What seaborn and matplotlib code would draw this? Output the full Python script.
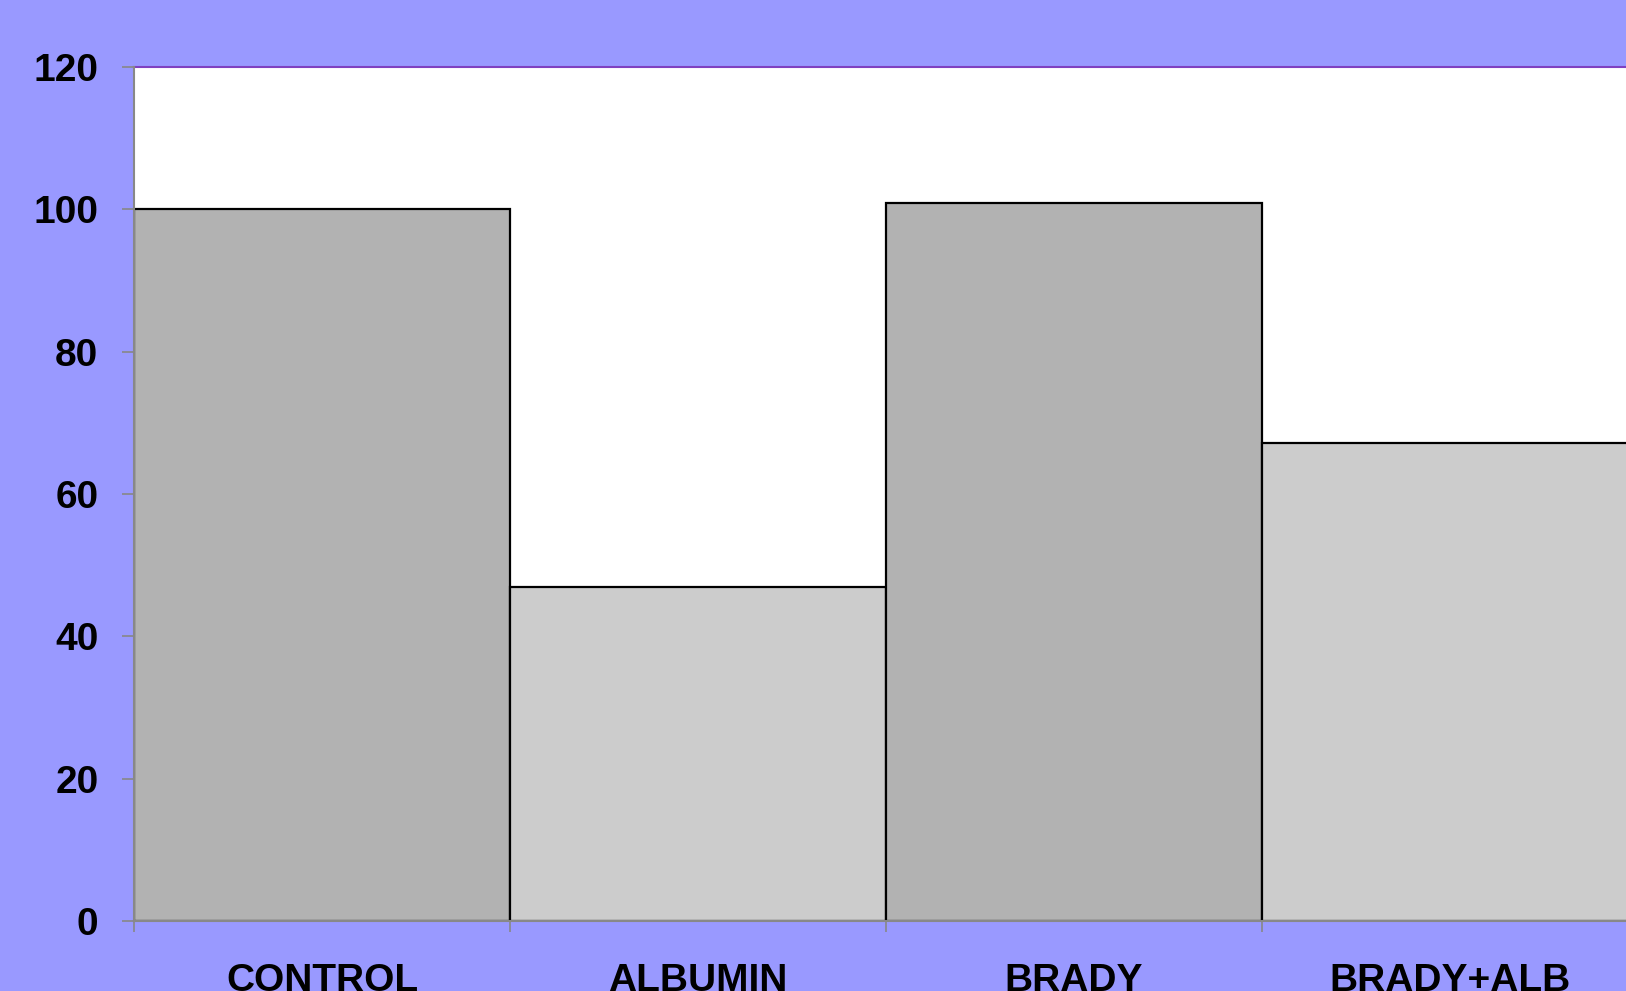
import matplotlib
matplotlib.use("Agg")
import matplotlib.pyplot as plt
import seaborn as sns
import pandas as pd

categories = ["CONTROL", "ALBUMIN", "BRADY", "BRADY+ALB"]
values = [100.0, 46.9, 100.9, 67.2]
bar_colors = ["#B2B2B2", "#CCCCCC", "#B2B2B2", "#CCCCCC"]
yticks = [0, 20, 40, 60, 80, 100, 120]

sns.set_style("white")
plt.rcParams["font.family"] = ["Liberation Sans", "DejaVu Sans"]

W, H = 1626, 991
fig = plt.figure(figsize=(W / 100, H / 100), dpi=100)
fig.patch.set_facecolor("#9999FF")
ax = fig.add_axes([134 / W, (H - 921) / H, 1504 / W, 854 / H])
ax.set_facecolor("white")

df = pd.DataFrame({"cat": categories, "val": values})
sns.barplot(data=df, x="cat", y="val", hue="cat", palette=bar_colors,
            width=1.0, edgecolor="black", linewidth=1.6, legend=False,
            saturation=1, ax=ax)

ax.set_xlim(-0.5, 3.5)
ax.set_ylim(0, 120)
ax.set_yticks(yticks)
ax.set_yticklabels([str(t) for t in yticks], fontsize=28, fontweight="bold", color="black")
ax.set_xticks(range(len(categories)))
ax.set_xticklabels(categories, fontsize=28, fontweight="bold", color="black")
ax.set_xticks([-0.5, 0.5, 1.5, 2.5, 3.5], minor=True)
ax.tick_params(axis="x", which="major", length=0, pad=30)
ax.tick_params(axis="x", which="minor", length=8, width=1.2, color="#888888", direction="out", bottom=True)
ax.tick_params(axis="y", which="major", length=8.6, width=1.2, color="#888888", direction="out", left=True, pad=17)
ax.set_xlabel("")
ax.set_ylabel("")

for side in ["left", "bottom"]:
    ax.spines[side].set_color("#888888")
    ax.spines[side].set_linewidth(1.5)
    ax.spines[side].set_zorder(5)
ax.spines["top"].set_color("#8040C0")
ax.spines["top"].set_linewidth(1.5)
ax.spines["right"].set_visible(False)

fig.savefig("out.png", dpi=100, facecolor=fig.get_facecolor())
